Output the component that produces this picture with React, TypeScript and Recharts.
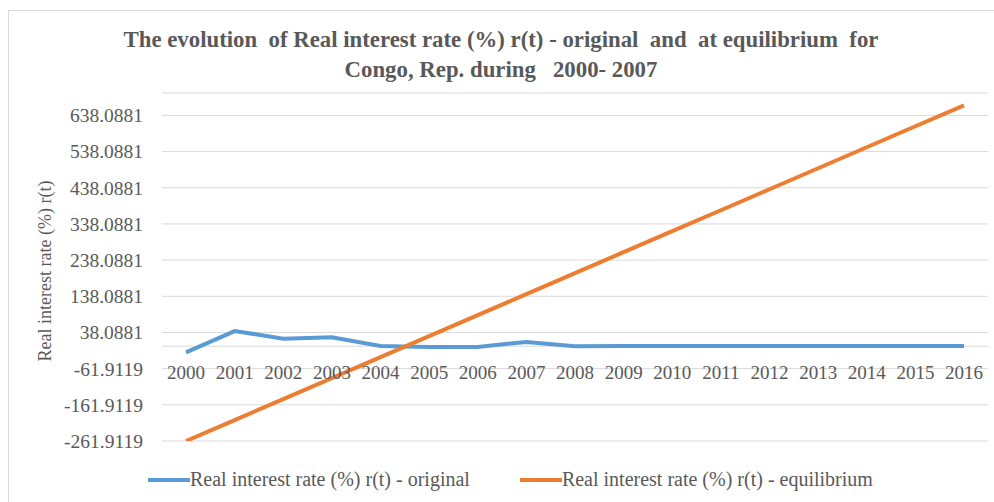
import { CSSProperties } from 'react'
import { CartesianGrid, Legend, Line, LineChart, ReferenceDot, ReferenceLine, XAxis, YAxis } from 'recharts'

const years = ['2000', '2001', '2002', '2003', '2004', '2005', '2006', '2007', '2008',
  '2009', '2010', '2011', '2012', '2013', '2014', '2015', '2016']
const originalRate = [-17, 42, 21, 25, 1, -2, -2, 12, 0, 1, 1, 1, 1, 1, 1, 1, 1]
const equilibriumRate = [-262, -204, -146, -88, -30, 28, 86, 144, 202, 260, 318, 376, 434, 492, 550, 608, 666]
const yTicks = [-261.9119, -161.9119, -61.9119, 38.0881, 138.0881, 238.0881, 338.0881, 438.0881, 538.0881, 638.0881]
const seriesNames = ['Real interest rate (%) r(t) - original', 'Real interest rate (%) r(t) - equilibrium']
const yAxisTitle = 'Real interest rate (%) r(t)'

const data = years.map((year, i) => ({
  year,
  original: originalRate[i],
  equilibrium: equilibriumRate[i],
}))

const FONT = '"Liberation Serif", "Times New Roman", serif'
const TEXT = '#595959'
const BLUE = '#5b9bd5'
const ORANGE = '#ed7d31'

const sFrame: CSSProperties = {
  position: 'absolute',
  left: 0,
  top: 0,
  width: 994,
  height: 502,
  background: '#fff',
  fontFamily: FONT,
}

const sBorder: CSSProperties = {
  position: 'absolute',
  left: 8,
  top: 10,
  width: 986,
  height: 492,
  borderLeft: '1px solid #d9d9d9',
  borderTop: '1px solid #d9d9d9',
  boxSizing: 'border-box',
}

const sTitle: CSSProperties = {
  position: 'absolute',
  left: 0,
  top: 25,
  width: 1002,
  textAlign: 'center',
  fontWeight: 'bold',
  fontSize: 22.8,
  lineHeight: '30px',
  color: TEXT,
  whiteSpace: 'pre',
}

const legendColors = [BLUE, ORANGE]

const LegendContent = () => (
  <div style={{display: 'flex', fontFamily: FONT, fontSize: 20, color: TEXT, paddingLeft: 148}}>
    {seriesNames.map((name, i) => (
      <div key={name} style={{display: 'flex', alignItems: 'center', marginRight: i === 0 ? 50 : 0}}>
        <span style={{display: 'inline-block', width: 42, height: 4, background: legendColors[i]}}/>
        <span>{name}</span>
      </div>
    ))}
  </div>
)

// rotated axis title, centred on the axis box
const YAxisTitle = ({viewBox}: { viewBox?: { x: number, y: number, width: number, height: number } }) => {
  if (!viewBox) return null
  const cx = viewBox.x + 45
  const cy = viewBox.y + viewBox.height / 2 + 4
  return (
    <text x={cx} y={cy} transform={`rotate(-90 ${cx} ${cy})`} textAnchor="middle" dominantBaseline="central"
          fill={TEXT} fontSize={18} fontFamily={FONT}>
      {yAxisTitle}
    </text>
  )
}

export default function App() {
  return (
    <div style={sFrame}>
      <div style={sBorder}/>
      <div style={sTitle}>
        {'The evolution  of Real interest rate (%) r(t) - original  and  at equilibrium  for\nCongo, Rep. during   2000- 2007'}
      </div>
      <div style={{position: 'absolute', left: 0, top: 0}}>
        <LineChart width={994} height={502} data={data} margin={{top: 93, right: 6, bottom: 38, left: 0}}>
          <CartesianGrid vertical={false} stroke="#d9d9d9" strokeWidth={1}/>
          <XAxis dataKey="year" hide padding={{left: 24, right: 24}}/>
          <YAxis domain={[-261.9119, 700]} ticks={yTicks} width={162} axisLine={false} tickLine={false}
                 tickMargin={13} interval={0} allowDataOverflow
                 tick={{fill: TEXT, fontSize: 19.5, fontFamily: FONT}}
                 tickFormatter={(n: number) => n.toFixed(4)}
                 label={(props: any) => <YAxisTitle viewBox={props.viewBox}/>}/>
          <ReferenceLine y={0} stroke="#d9d9d9" strokeWidth={1}/>
          {years.map(y => (
            <ReferenceDot key={y} x={y} y={0} r={0} fill="none" stroke="none"
                          label={{value: y, position: 'bottom', offset: 19, fill: TEXT, fontSize: 19, fontFamily: FONT}}/>
          ))}
          <Line type="linear" dataKey="original" name={seriesNames[0]} stroke={BLUE} strokeWidth={4}
                dot={false} isAnimationActive={false}/>
          <Line type="linear" dataKey="equilibrium" name={seriesNames[1]} stroke={ORANGE} strokeWidth={4}
                dot={false} isAnimationActive={false}/>
          <Legend content={LegendContent} wrapperStyle={{position: 'absolute', top: 468, left: 0, width: 994}}/>
        </LineChart>
      </div>
    </div>
  )
}
